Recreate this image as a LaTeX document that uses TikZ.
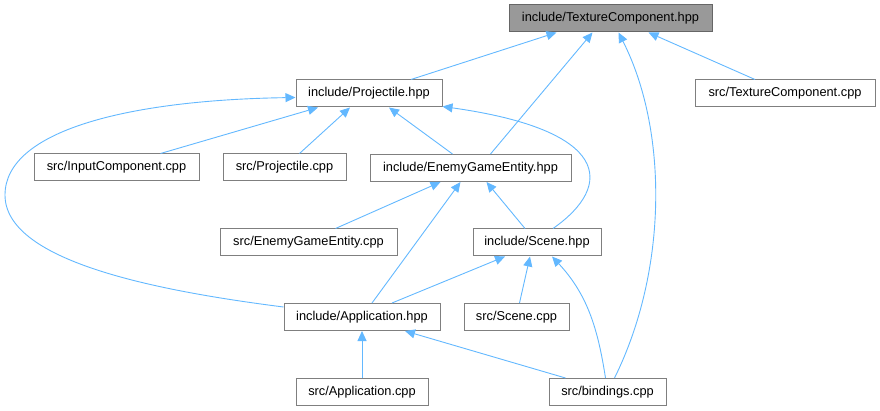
\documentclass[tikz,border=0pt]{standalone}
\usepackage{fontspec}
\setmainfont{Liberation Sans}
\usetikzlibrary{arrows.meta}
\definecolor{edgeblue}{HTML}{63B8FF}
\definecolor{boxgray}{HTML}{7F7F7F}

\begin{document}
\begin{tikzpicture}[x=1pt,y=-1pt,
  file/.style={draw=boxgray,fill=white,line width=1pt,minimum height=27pt,
    inner sep=0pt,font=\fontsize{12.8}{14}\selectfont},
  dep/.style={draw=edgeblue,line width=0.9pt,
    -{Triangle[length=10pt,width=9pt]}}]
  \useasboundingbox (0,0) rectangle (880,411);
  % nodes
  \node[file,fill={rgb,255:red,153;green,153;blue,153},draw={rgb,255:red,102;green,102;blue,102},
    minimum width=203pt] (tex) at (610.5,18.5) {include/TextureComponent.hpp};
  \node[file,minimum width=146pt] (proj) at (369,93.5) {include/Projectile.hpp};
  \node[file,minimum width=180pt] (srctex) at (785,93.5) {src/TextureComponent.cpp};
  \node[file,minimum width=165pt] (input) at (116.5,167.5) {src/InputComponent.cpp};
  \node[file,minimum width=123pt] (srcproj) at (284.5,167.5) {src/Projectile.cpp};
  \node[file,minimum width=201pt] (enemy) at (470.5,168) {include/EnemyGameEntity.hpp};
  \node[file,minimum width=177pt] (srcenemy) at (308.5,242.5) {src/EnemyGameEntity.cpp};
  \node[file,minimum width=128pt] (scene) at (537,242.5) {include/Scene.hpp};
  \node[file,minimum width=156pt] (app) at (362,317) {include/Application.hpp};
  \node[file,minimum width=105pt] (srcscene) at (516.5,317) {src/Scene.cpp};
  \node[file,minimum width=132pt] (srcapp) at (362,392) {src/Application.cpp};
  \node[file,minimum width=117pt] (bind) at (607.5,392) {src/bindings.cpp};
  % edges
  \draw[dep] ([xshift=42pt]proj.north) -- ([xshift=-54pt]tex.south);
  \draw[dep] ([xshift=20pt]enemy.north) -- ([xshift=-18pt]tex.south);
  \draw[dep] ([xshift=7pt]bind.north) .. controls (668,270) and (668,130) .. ([xshift=8pt]tex.south);
  \draw[dep] ([xshift=-30pt]srctex.north) -- ([xshift=38pt]tex.south);
  \draw[dep] ([yshift=10pt]app.west) .. controls (150,290) and (5,260) .. (5,195)
    .. controls (5,130) and (130,100) .. ([yshift=-4pt]proj.west);
  \draw[dep] ([xshift=44pt]input.north) -- ([xshift=-51pt]proj.south);
  \draw[dep] ([xshift=15pt]srcproj.north) -- ([xshift=-19pt]proj.south);
  \draw[dep] ([xshift=-18pt]enemy.north) -- ([xshift=20pt]proj.south);
  \draw[dep] ([xshift=16pt]scene.north) .. controls (615,185) and (610,130) .. ([yshift=1pt]proj.south east);
  \draw[dep] ([xshift=27pt]srcenemy.north) -- ([xshift=-30pt]enemy.south);
  \draw[dep] ([xshift=10pt]app.north) -- ([xshift=-10pt]enemy.south);
  \draw[dep] ([xshift=-12pt]scene.north) -- ([xshift=16pt]enemy.south);
  \draw[dep] ([xshift=30pt]app.north) -- ([xshift=-32pt]scene.south);
  \draw[dep] ([xshift=3pt]srcscene.north) -- ([xshift=-7pt]scene.south);
  \draw[dep] ([xshift=-2pt]bind.north) .. controls (598,330) and (588,295) .. ([xshift=15pt]scene.south);
  \draw[dep] (srcapp.north) -- (app.south);
  \draw[dep] ([xshift=-42pt]bind.north) -- ([xshift=43pt]app.south);
\end{tikzpicture}
\end{document}
